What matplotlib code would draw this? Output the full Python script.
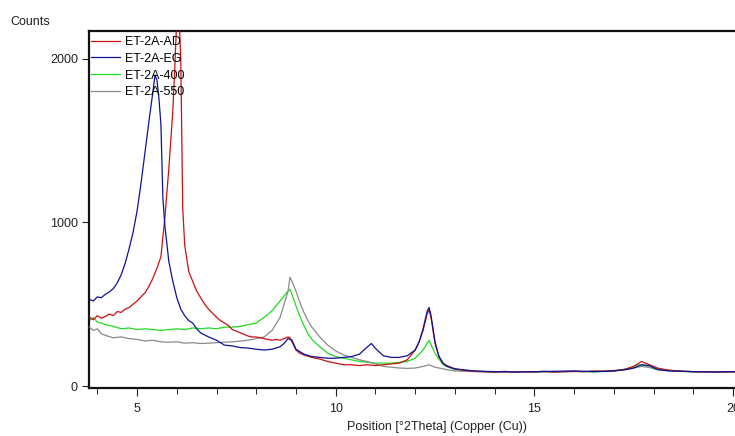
import numpy as np
import matplotlib.pyplot as plt

plt.rcParams['font.family'] = ['Liberation Sans', 'DejaVu Sans']

# ET-2A-AD (air dried)
ad_theta = [3.8, 3.9, 4.0, 4.1, 4.2, 4.3, 4.4, 4.5, 4.6, 4.7, 4.8, 4.9, 5.0, 5.1, 5.2,
            5.3, 5.4, 5.5, 5.6, 5.7, 5.8, 5.9, 5.95, 6.0, 6.05, 6.1, 6.15, 6.2, 6.3,
            6.4, 6.5, 6.6, 6.7, 6.8, 6.9, 7.0, 7.1, 7.2, 7.3, 7.4, 7.5, 7.6, 7.7, 7.8,
            7.9, 8.0, 8.1, 8.2, 8.3, 8.4, 8.5, 8.6, 8.7, 8.8, 8.85, 8.9, 9.0, 9.1, 9.2,
            9.4, 9.6, 9.8, 10.0, 10.2, 10.4, 10.6, 10.8, 11.0, 11.2, 11.4, 11.6, 11.8,
            12.0, 12.1, 12.2, 12.3, 12.35, 12.4, 12.5, 12.6, 12.7, 12.8, 13.0, 13.25,
            13.5, 13.75, 14.0, 14.25, 14.5, 14.75, 15.0, 15.25, 15.5, 15.75, 16.0,
            16.25, 16.5, 16.75, 17.0, 17.25, 17.5, 17.7, 17.9, 18.1, 18.3, 18.6, 19.0,
            19.5, 20.0, 20.5, 21.0, 21.3]
ad_counts = [420, 405, 430, 415, 425, 440, 430, 455, 450, 470, 480, 500, 520, 545, 570,
             610, 660, 720, 790, 1030, 1330, 1680, 1950, 2250, 2300, 2000, 1080, 860, 700,
             640, 580, 540, 500, 470, 445, 420, 400, 385, 370, 345, 335, 325, 315, 305,
             300, 300, 295, 290, 285, 280, 285, 280, 290, 300, 295, 270, 220, 200, 190,
             175, 165, 150, 140, 130, 130, 125, 130, 125, 130, 135, 140, 160,
             220, 270, 340, 440, 465, 420, 260, 180, 140, 125, 105, 95,
             90, 88, 85, 90, 85, 88, 86, 90, 85, 88, 90,
             88, 92, 90, 95, 100, 120, 150, 130, 110, 100, 92, 88,
             86, 88, 85, 86, 85]

# ET-2A-EG (glycolated)
eg_theta = [3.8, 3.9, 4.0, 4.1, 4.2, 4.3, 4.4, 4.5, 4.6, 4.7, 4.8, 4.9, 5.0, 5.1, 5.2,
            5.3, 5.4, 5.45, 5.5, 5.55, 5.6, 5.65, 5.7, 5.8, 5.9, 6.0, 6.1, 6.2, 6.3,
            6.4, 6.5, 6.6, 6.8, 7.0, 7.2, 7.4, 7.6, 7.8, 8.0, 8.2, 8.4, 8.6, 8.7, 8.8,
            8.9, 9.0, 9.2, 9.4, 9.6, 9.8, 10.0, 10.2, 10.4, 10.6, 10.8, 10.9, 11.0,
            11.2, 11.4, 11.6, 11.8, 12.0, 12.1, 12.2, 12.3, 12.35, 12.4, 12.5, 12.6,
            12.7, 12.8, 13.0, 13.5, 14.0, 14.5, 15.0, 15.5, 16.0, 16.5, 17.0, 17.3,
            17.5, 17.7, 17.9, 18.1, 18.4, 19.0, 19.5, 20.0, 20.5, 21.0, 21.3]
eg_counts = [530, 520, 545, 540, 560, 575, 595, 630, 680, 750, 840, 940, 1070, 1240, 1430,
             1620, 1800, 1900, 1870, 1760, 1600, 1150, 980, 760, 640, 540, 470, 430, 400,
             385, 350, 325, 300, 280, 250, 245, 235, 232, 225, 220, 225, 240, 260, 290,
             280, 225, 195, 180, 175, 170, 170, 175, 180, 195, 240, 260, 230,
             185, 175, 175, 185, 220, 270, 350, 455, 480, 430, 270, 180,
             140, 120, 105, 92, 88, 86, 88, 90, 92, 88, 92, 100,
             110, 130, 125, 100, 92, 88, 86, 88, 86, 85, 86]

# ET-2A-400 (heated 400 C)
h400_theta = [3.8, 3.9, 4.0, 4.1, 4.2, 4.4, 4.6, 4.8, 5.0, 5.2, 5.4, 5.6, 5.8, 6.0, 6.2,
              6.4, 6.6, 6.8, 7.0, 7.2, 7.4, 7.6, 7.8, 8.0, 8.2, 8.4, 8.6, 8.7, 8.8,
              8.85, 8.9, 9.0, 9.1, 9.2, 9.3, 9.4, 9.6, 9.8, 10.0, 10.2, 10.4, 10.6,
              10.8, 11.0, 11.2, 11.4, 11.6, 11.8, 12.0, 12.2, 12.35, 12.5, 12.7, 13.0,
              13.5, 14.0, 14.5, 15.0, 15.5, 16.0, 16.5, 17.0, 17.2, 17.4, 17.6, 17.8,
              18.0, 18.3, 19.0, 19.5, 20.0, 20.5, 21.0, 21.3]
h400_counts = [400, 420, 390, 385, 375, 365, 350, 355, 345, 350, 345, 340, 345, 350, 345,
               355, 350, 355, 350, 360, 360, 365, 375, 385, 420, 460, 520, 550, 580,
               590, 560, 490, 425, 370, 320, 285, 240, 200, 180, 170, 160, 150,
               145, 140, 140, 140, 145, 150, 170, 220, 280, 200, 130, 100,
               90, 86, 88, 85, 88, 90, 86, 92, 100, 110, 130, 125,
               105, 95, 86, 88, 85, 86, 85, 86]

# ET-2A-550 (heated 550 C)
h550_theta = [3.8, 3.9, 4.0, 4.1, 4.2, 4.4, 4.6, 4.8, 5.0, 5.2, 5.4, 5.6, 5.8, 6.0, 6.2,
              6.4, 6.6, 6.8, 7.0, 7.2, 7.4, 7.6, 7.8, 8.0, 8.2, 8.4, 8.6, 8.7, 8.8,
              8.85, 8.9, 9.0, 9.1, 9.2, 9.3, 9.4, 9.5, 9.6, 9.8, 10.0, 10.2, 10.4,
              10.6, 10.8, 11.0, 11.2, 11.4, 11.6, 11.8, 12.0, 12.2, 12.35, 12.5, 12.8,
              13.0, 13.5, 14.0, 14.5, 15.0, 15.5, 16.0, 16.5, 17.0, 17.4, 17.7, 18.0,
              18.4, 19.0, 19.5, 20.0, 20.5, 21.0, 21.3]
h550_counts = [360, 340, 350, 320, 310, 295, 300, 290, 285, 275, 280, 270, 268, 270, 262,
               265, 260, 262, 265, 268, 270, 275, 280, 290, 300, 340, 420, 500, 580,
               665, 640, 580, 510, 450, 400, 360, 330, 300, 250, 215, 190, 175,
               160, 150, 135, 120, 115, 110, 108, 110, 120, 130, 115, 100,
               92, 88, 86, 85, 88, 86, 88, 90, 92, 105, 120, 110,
               95, 88, 86, 85, 86, 85, 86]

series = [
    ('ET-2A-AD', ad_theta, ad_counts, '#cc1010'),
    ('ET-2A-EG', eg_theta, eg_counts, '#10109a'),
    ('ET-2A-400', h400_theta, h400_counts, '#20dd20'),
    ('ET-2A-550', h550_theta, h550_counts, '#8a8a8a'),
]

fig = plt.figure(figsize=(7.35, 4.36), dpi=100)
# axes run past the right edge of the picture, as in the original screenshot
ax = fig.add_axes([89 / 735, 1 - 388 / 436, 696 / 735, 357 / 436])

zorders = {'ET-2A-AD': 4, 'ET-2A-EG': 5, 'ET-2A-400': 2, 'ET-2A-550': 3}
for name, tx, cy, col in series:
    ax.plot(tx, cy, color=col, lw=0.9, label=name, zorder=zorders[name])

ax.set_xlim(3.79, 21.31)
ax.set_ylim(-12, 2170)
ax.set_xticks([5, 10, 15, 20])
ax.set_xticks(np.arange(4, 22, 1), minor=True)
ax.set_yticks([0, 1000, 2000])
ax.tick_params(axis='both', which='major', labelsize=9, color='#222222',
               labelcolor='#222222', direction='out')
ax.tick_params(axis='x', which='major', length=6, pad=5)
ax.tick_params(axis='x', which='minor', length=4)
ax.tick_params(axis='y', which='major', length=5, pad=3)
for side in ['left', 'bottom', 'top']:
    ax.spines[side].set_linewidth(1.6)
    ax.spines[side].set_color('#111111')
ax.spines['right'].set_visible(False)

ax.legend(loc='upper left', bbox_to_anchor=(0.0, 0.991), frameon=False, fontsize=9,
          borderaxespad=0.0, borderpad=0.15, handlelength=2.3, handletextpad=0.4,
          labelspacing=0.38)

fig.text(10 / 735, 1 - 22 / 436, 'Counts', fontsize=9, color='#222222', va='center')
fig.text(437 / 735, 1 - 427 / 436, 'Position [°2Theta] (Copper (Cu))', fontsize=9,
         color='#222222', ha='center', va='center')

fig.savefig('out.png', dpi=100)
